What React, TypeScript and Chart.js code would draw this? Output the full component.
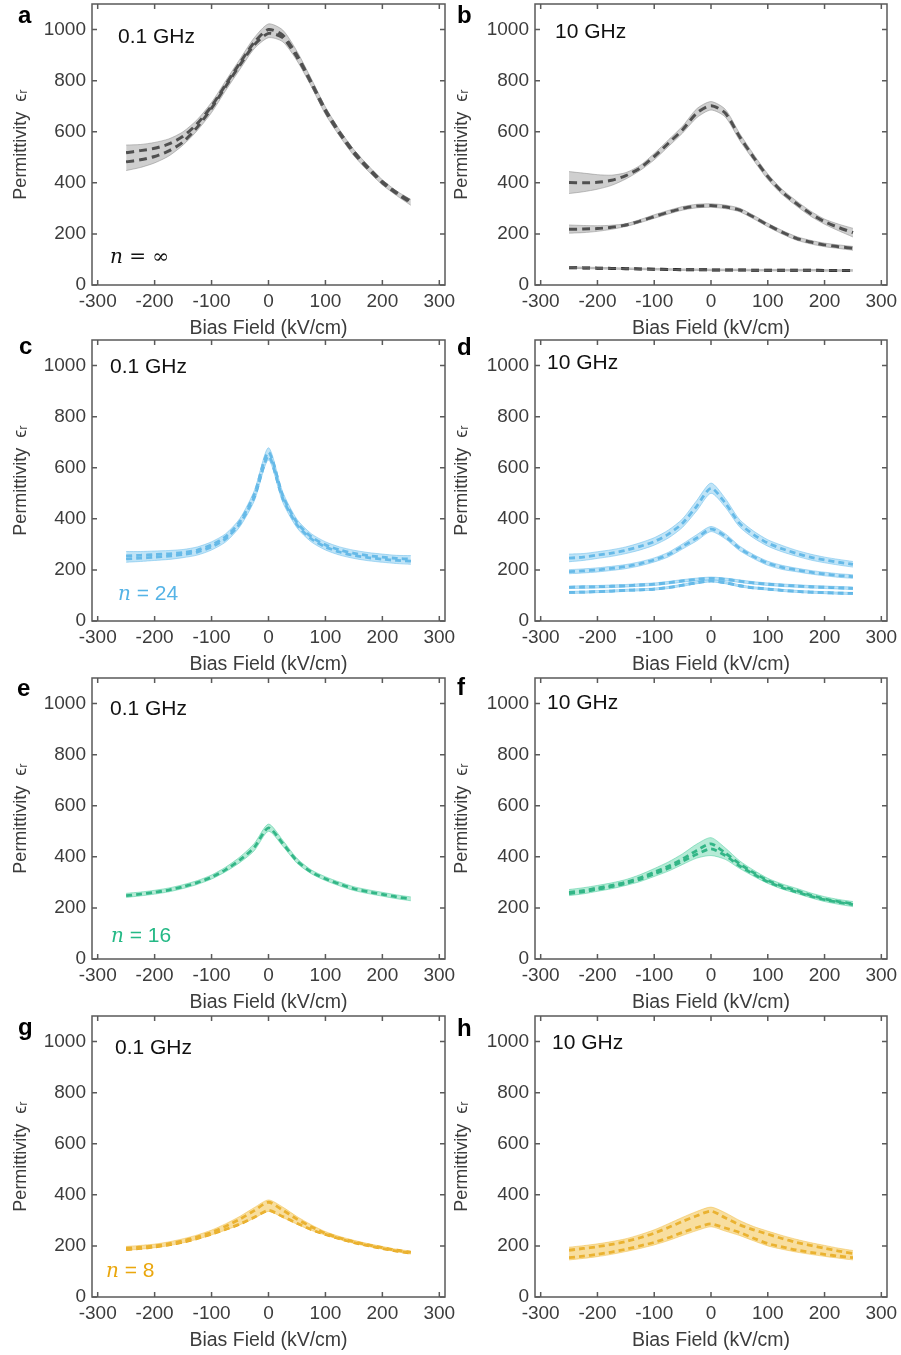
import React, { useEffect, useRef } from "react";
import { Chart, registerables } from "chart.js";

Chart.register(...registerables);

// ---------- data ----------
const X = [-250, -225, -200, -175, -150, -125, -100, -75, -50, -25, 0, 25, 50, 75, 100, 125, 150, 175, 200, 225, 250];
const X_TICKS = [-300, -200, -100, 0, 100, 200, 300];
const Y_TICKS = [0, 200, 400, 600, 800, 1000];

// panel a (0.1 GHz, n = inf)
const A_DASH1 = [518, 526, 535, 552, 582, 632, 700, 785, 870, 950, 1000, 978, 900, 795, 686, 598, 522, 460, 405, 362, 328];
const A_DASH2 = [482, 490, 503, 525, 560, 618, 692, 778, 862, 940, 985, 968, 892, 790, 680, 592, 516, 455, 400, 358, 322];
const A_HI = [548, 550, 558, 572, 600, 648, 715, 800, 885, 968, 1022, 998, 915, 808, 697, 607, 530, 468, 412, 368, 335];
const A_LO = [448, 460, 478, 505, 548, 605, 675, 762, 845, 925, 968, 952, 878, 778, 668, 582, 506, 446, 392, 350, 312];

// panel b (10 GHz, n = inf)
const B1_DASH = [401, 400, 402, 410, 428, 458, 503, 555, 608, 673, 702, 673, 582, 500, 425, 365, 320, 280, 248, 225, 205];
const B1_HI = [444, 438, 432, 430, 440, 468, 515, 568, 622, 690, 718, 688, 595, 512, 435, 375, 330, 290, 258, 238, 222];
const B1_LO = [358, 365, 375, 390, 415, 448, 490, 542, 595, 655, 685, 658, 568, 488, 413, 355, 310, 270, 238, 212, 188];
const B2_DASH = [218, 219, 221, 226, 235, 250, 268, 285, 300, 309, 311, 306, 294, 266, 235, 207, 183, 168, 157, 150, 144];
const B2_HI = [235, 233, 232, 234, 240, 256, 275, 292, 307, 316, 318, 313, 301, 273, 242, 214, 190, 175, 164, 157, 151];
const B2_LO = [203, 205, 210, 218, 229, 244, 261, 278, 293, 302, 304, 299, 287, 259, 228, 200, 176, 161, 150, 143, 136];
const B3_DASH = [68, 67, 66, 65, 64, 63, 62, 61, 60, 60, 59, 59, 59, 58, 58, 58, 58, 58, 57, 57, 57];
const B3_HI = [71, 70, 69, 68, 67, 66, 65, 64, 63, 63, 62, 62, 62, 61, 61, 61, 61, 61, 60, 60, 60];
const B3_LO = [65, 64, 63, 62, 61, 60, 59, 58, 57, 57, 56, 56, 56, 55, 55, 55, 55, 55, 54, 54, 54];

// panel c (0.1 GHz, n = 24)
const C_DASH1 = [255, 257, 260, 263, 268, 278, 298, 330, 390, 495, 660, 490, 385, 330, 298, 278, 265, 256, 250, 245, 242];
const C_DASH2 = [243, 246, 250, 254, 260, 270, 290, 322, 382, 485, 645, 480, 377, 322, 290, 270, 257, 248, 242, 237, 234];
const C_HI = [272, 272, 274, 276, 280, 290, 310, 342, 402, 510, 678, 505, 398, 342, 310, 290, 277, 268, 262, 257, 256];
const C_LO = [230, 233, 237, 241, 248, 258, 278, 310, 370, 470, 630, 465, 365, 310, 278, 258, 245, 236, 230, 225, 222];

// panel d (10 GHz, n = 24)
const D1_DASH = [246, 250, 258, 266, 277, 292, 311, 340, 383, 450, 520, 462, 383, 338, 305, 283, 265, 250, 239, 230, 222];
const D1_HI = [262, 264, 271, 279, 290, 306, 326, 356, 400, 472, 540, 480, 398, 352, 318, 296, 277, 262, 250, 241, 233];
const D1_LO = [232, 237, 245, 253, 264, 278, 297, 325, 367, 432, 500, 446, 369, 325, 293, 271, 254, 239, 228, 219, 211];
const D2_DASH = [193, 196, 200, 206, 213, 224, 239, 260, 292, 325, 360, 332, 285, 252, 226, 210, 200, 191, 184, 178, 174];
const D2_HI = [201, 204, 208, 214, 221, 232, 247, 269, 302, 338, 370, 342, 294, 260, 234, 218, 207, 198, 191, 185, 181];
const D2_LO = [185, 188, 192, 198, 205, 216, 231, 251, 282, 314, 350, 322, 276, 244, 218, 202, 193, 184, 177, 171, 167];
const D3_DASH = [132, 133, 134, 136, 138, 141, 144, 150, 157, 163, 167, 163, 156, 149, 144, 140, 137, 134, 132, 130, 128];
const D3_HI = [137, 138, 139, 141, 143, 146, 149, 155, 162, 168, 172, 168, 161, 154, 149, 145, 142, 139, 137, 135, 133];
const D3_LO = [127, 128, 129, 131, 133, 136, 139, 145, 152, 158, 162, 158, 151, 144, 139, 135, 132, 129, 127, 125, 123];
const D4_DASH = [112, 113, 115, 117, 120, 122, 125, 131, 140, 150, 157, 150, 138, 130, 125, 120, 116, 113, 111, 109, 108];
const D4_HI = [116, 117, 119, 121, 124, 126, 129, 135, 144, 154, 161, 154, 142, 134, 129, 124, 120, 117, 115, 113, 112];
const D4_LO = [108, 109, 111, 113, 116, 118, 121, 127, 136, 146, 153, 146, 134, 126, 121, 116, 112, 109, 107, 105, 104];

// panel e (0.1 GHz, n = 16)
const E_DASH = [248, 254, 261, 270, 283, 299, 320, 350, 388, 437, 513, 452, 384, 341, 314, 293, 275, 263, 253, 243, 235];
const E_HI = [257, 262, 269, 278, 291, 307, 329, 360, 400, 452, 528, 465, 394, 349, 322, 301, 283, 271, 261, 251, 243];
const E_LO = [241, 247, 254, 263, 276, 292, 313, 342, 378, 424, 500, 442, 375, 334, 307, 286, 268, 256, 246, 236, 228];

// panel f (10 GHz, n = 16)
const F_DASH1 = [261, 268, 278, 288, 301, 318, 340, 363, 392, 425, 451, 415, 373, 338, 307, 285, 268, 250, 235, 225, 216];
const F_DASH2 = [256, 263, 273, 283, 296, 312, 333, 355, 383, 410, 431, 405, 365, 332, 302, 280, 263, 246, 232, 222, 213];
const F_HI = [272, 279, 288, 298, 311, 330, 354, 380, 412, 450, 475, 435, 385, 348, 316, 294, 277, 259, 244, 233, 225];
const F_LO = [248, 255, 265, 275, 288, 303, 323, 344, 370, 395, 405, 390, 355, 324, 296, 274, 257, 240, 225, 214, 205];

// panel g (0.1 GHz, n = 8)
const G_DASH1 = [191, 195, 200, 209, 220, 235, 253, 277, 305, 338, 371, 340, 305, 275, 249, 231, 216, 204, 193, 183, 175];
const G_DASH2 = [186, 190, 196, 204, 215, 229, 246, 265, 286, 312, 339, 315, 289, 264, 245, 228, 213, 201, 190, 180, 172];
const G_HI = [198, 202, 207, 216, 228, 243, 262, 287, 316, 350, 380, 352, 315, 283, 256, 237, 222, 209, 198, 187, 180];
const G_LO = [183, 187, 193, 201, 212, 226, 243, 262, 283, 308, 335, 311, 285, 261, 242, 225, 210, 198, 187, 177, 168];

// panel h (10 GHz, n = 8)
const H_DASH1 = [183, 190, 197, 206, 217, 232, 250, 272, 296, 318, 336, 310, 283, 263, 246, 229, 214, 202, 191, 180, 170];
const H_DASH2 = [154, 160, 167, 176, 187, 200, 214, 232, 253, 272, 286, 270, 253, 230, 209, 196, 184, 175, 167, 160, 154];
const H_HI = [195, 201, 208, 217, 228, 244, 263, 287, 312, 335, 352, 330, 300, 276, 258, 241, 226, 213, 202, 191, 182];
const H_LO = [145, 151, 158, 167, 178, 190, 204, 221, 241, 260, 275, 258, 241, 220, 200, 187, 176, 167, 159, 152, 145];

// ---------- styling ----------
const FONT = "'Liberation Sans', Arial, sans-serif";
const AXIS_TEXT = "#3c3c3c";
const PAD_TOP = 10;
const CHART_H = 281;
const X_AXIS_H = 55;
const ROW_TOPS = [4, 340, 678, 1016];
const COLS = [
  { canvasLeft: 0, yW: 92, chartRight: 445, padRight: 20, titlePad: 10 },
  { canvasLeft: 450, yW: 85, chartRight: 887, padRight: 14, titlePad: 1 },
];

type Theme = { band: string; edge: string; dash: string; width: number; pattern: number[] };
const BLACK: Theme = { band: "rgba(160,160,160,0.5)", edge: "rgba(130,130,130,0.6)", dash: "#000000", width: 3, pattern: [8, 5] };
const BLUE: Theme = { band: "rgba(140,205,240,0.55)", edge: "rgba(110,190,235,0.7)", dash: "#3aa3de", width: 2.8, pattern: [6, 4] };
const GREEN: Theme = { band: "rgba(90,210,165,0.45)", edge: "rgba(60,200,150,0.6)", dash: "#139f70", width: 2.8, pattern: [6, 4] };
const ORANGE: Theme = { band: "rgba(243,195,80,0.55)", edge: "rgba(240,185,60,0.6)", dash: "#e19e0c", width: 2.8, pattern: [6, 4] };

type Spec = { col: number; row: number; theme: Theme; bands: number[][][]; dashes: number[][] };
const PANELS: Spec[] = [
  { col: 0, row: 0, theme: BLACK, bands: [[A_HI, A_LO]], dashes: [A_DASH1, A_DASH2] },
  { col: 1, row: 0, theme: BLACK, bands: [[B1_HI, B1_LO], [B2_HI, B2_LO], [B3_HI, B3_LO]], dashes: [B1_DASH, B2_DASH, B3_DASH] },
  { col: 0, row: 1, theme: BLUE, bands: [[C_HI, C_LO]], dashes: [C_DASH1, C_DASH2] },
  { col: 1, row: 1, theme: BLUE, bands: [[D1_HI, D1_LO], [D2_HI, D2_LO], [D3_HI, D3_LO], [D4_HI, D4_LO]], dashes: [D1_DASH, D2_DASH, D3_DASH, D4_DASH] },
  { col: 0, row: 2, theme: GREEN, bands: [[E_HI, E_LO]], dashes: [E_DASH] },
  { col: 1, row: 2, theme: GREEN, bands: [[F_HI, F_LO]], dashes: [F_DASH1, F_DASH2] },
  { col: 0, row: 3, theme: ORANGE, bands: [[G_HI, G_LO]], dashes: [G_DASH1, G_DASH2] },
  { col: 1, row: 3, theme: ORANGE, bands: [[H_HI, H_LO]], dashes: [H_DASH1, H_DASH2] },
];

const boxPlugin = {
  id: "matlabBox",
  afterDraw(chart: any) {
    const { ctx, chartArea } = chart;
    const { left, right, top, bottom } = chartArea;
    const xs = chart.scales.x;
    const ys = chart.scales.y;
    ctx.save();
    ctx.strokeStyle = "#5a5a5a";
    ctx.lineWidth = 1.5;
    ctx.strokeRect(left, top, right - left, bottom - top);
    ctx.beginPath();
    X_TICKS.forEach((v) => {
      const px = xs.getPixelForValue(v);
      ctx.moveTo(px, bottom);
      ctx.lineTo(px, bottom - 5);
      ctx.moveTo(px, top);
      ctx.lineTo(px, top + 5);
    });
    Y_TICKS.forEach((v) => {
      const py = ys.getPixelForValue(v);
      ctx.moveTo(left, py);
      ctx.lineTo(left + 5, py);
      ctx.moveTo(right, py);
      ctx.lineTo(right - 5, py);
    });
    ctx.stroke();
    ctx.restore();
  },
};

function toPts(arr: number[]) {
  return arr.map((y, i) => ({ x: X[i], y }));
}

function Panel({ spec }: { spec: Spec }) {
  const ref = useRef<HTMLCanvasElement>(null);
  const col = COLS[spec.col];
  const width = col.chartRight + col.padRight - col.canvasLeft;
  const height = PAD_TOP + CHART_H + X_AXIS_H;
  const top = ROW_TOPS[spec.row] - PAD_TOP;

  useEffect(() => {
    const t = spec.theme;
    const datasets: any[] = [];
    spec.bands.forEach(([hi, lo]) => {
      datasets.push({ data: toPts(hi), borderColor: t.edge, borderWidth: 0.8, pointRadius: 0, fill: false, tension: 0.25 });
      datasets.push({ data: toPts(lo), borderColor: t.edge, borderWidth: 0.8, pointRadius: 0, fill: "-1", backgroundColor: t.band, tension: 0.25 });
    });
    spec.dashes.forEach((d) => {
      datasets.push({ data: toPts(d), borderColor: t.dash, borderWidth: t.width, borderDash: t.pattern, pointRadius: 0, fill: false, tension: 0.25 });
    });
    const zeroPad = (s: any) => {
      s.paddingLeft = 0;
      s.paddingRight = 0;
      s.paddingTop = 0;
      s.paddingBottom = 0;
    };
    const chart = new Chart(ref.current as HTMLCanvasElement, {
      type: "line",
      data: { datasets },
      options: {
        responsive: false,
        animation: false,
        layout: { padding: { top: PAD_TOP, right: col.padRight, bottom: 0, left: 0 } },
        plugins: { legend: { display: false }, tooltip: { enabled: false } },
        scales: {
          x: {
            type: "linear",
            min: -310,
            max: 310,
            afterBuildTicks: (s: any) => {
              s.ticks = X_TICKS.map((v) => ({ value: v }));
            },
            afterFit: (s: any) => {
              s.height = X_AXIS_H;
              zeroPad(s);
            },
            grid: { display: false, drawTicks: false },
            border: { display: false },
            ticks: {
              font: { family: FONT, size: 19 },
              color: AXIS_TEXT,
              padding: 5,
              maxRotation: 0,
              autoSkip: false,
              callback: (v: any) => String(v),
            },
            title: {
              display: true,
              text: "Bias Field (kV/cm)",
              font: { family: FONT, size: 19.5 },
              color: AXIS_TEXT,
              padding: { top: 0, bottom: 0 },
            },
          },
          y: {
            type: "linear",
            min: 0,
            max: 1100,
            afterBuildTicks: (s: any) => {
              s.ticks = Y_TICKS.map((v) => ({ value: v }));
            },
            afterFit: (s: any) => {
              s.width = col.yW;
              zeroPad(s);
            },
            grid: { display: false, drawTicks: false },
            border: { display: false },
            ticks: {
              font: { family: FONT, size: 19 },
              color: AXIS_TEXT,
              padding: 6,
              autoSkip: false,
              callback: (v: any) => String(v),
            },
            title: {
              display: true,
              text: "Permittivity  ϵᵣ",
              font: { family: FONT, size: 18 },
              color: AXIS_TEXT,
              padding: { top: col.titlePad, bottom: 0 },
            },
          },
        },
      },
      plugins: [boxPlugin],
    });
    return () => chart.destroy();
  }, []);

  return (
    <canvas
      ref={ref}
      width={width}
      height={height}
      style={{ position: "absolute", left: col.canvasLeft, top, width, height }}
    />
  );
}

function Txt({ x, base, size, children, style }: { x: number; base: number; size: number; children: any; style?: any }) {
  return (
    <div
      style={{
        position: "absolute",
        left: x,
        top: base - 0.85 * size,
        fontSize: size,
        lineHeight: `${size}px`,
        fontFamily: FONT,
        whiteSpace: "nowrap",
        ...style,
      }}
    >
      {children}
    </div>
  );
}

const LETTERS = [
  { t: "a", x: 18, b: 23 },
  { t: "b", x: 457, b: 23 },
  { t: "c", x: 19, b: 354 },
  { t: "d", x: 457, b: 355 },
  { t: "e", x: 17, b: 696 },
  { t: "f", x: 457, b: 695 },
  { t: "g", x: 18, b: 1035 },
  { t: "h", x: 457, b: 1036 },
];

const FREQS = [
  { t: "0.1 GHz", x: 118, b: 43 },
  { t: "10 GHz", x: 555, b: 38 },
  { t: "0.1 GHz", x: 110, b: 373 },
  { t: "10 GHz", x: 547, b: 369 },
  { t: "0.1 GHz", x: 110, b: 715 },
  { t: "10 GHz", x: 547, b: 709 },
  { t: "0.1 GHz", x: 115, b: 1054 },
  { t: "10 GHz", x: 552, b: 1049 },
];

const N_LABELS = [
  { v: "∞", x: 110, b: 263, color: "#111", serif: true },
  { v: "24", x: 118, b: 600, color: "#55b3e6", serif: false },
  { v: "16", x: 111, b: 942, color: "#25b986", serif: false },
  { v: "8", x: 106, b: 1277, color: "#eaa70e", serif: false },
];

const SERIF = "'DejaVu Serif', 'Liberation Serif', serif";

export default function App() {
  return (
    <div style={{ position: "absolute", left: 0, top: 0, width: 901, height: 1355, background: "#fff", overflow: "hidden" }}>
      {PANELS.map((p, i) => (
        <Panel key={i} spec={p} />
      ))}
      {LETTERS.map((l) => (
        <Txt key={l.t} x={l.x} base={l.b} size={24} style={{ fontWeight: "bold", color: "#000" }}>
          {l.t}
        </Txt>
      ))}
      {FREQS.map((f, i) => (
        <Txt key={"f" + i} x={f.x} base={f.b} size={21} style={{ color: "#111" }}>
          {f.t}
        </Txt>
      ))}
      {N_LABELS.map((n, i) => (
        <Txt key={"n" + i} x={n.x} base={n.b} size={20} style={{ color: n.color }}>
          <span style={{ fontFamily: SERIF, fontStyle: "italic" }}>n</span>
          {n.serif ? (
            <span style={{ fontFamily: SERIF }}> = ∞</span>
          ) : (
            <span style={{ fontSize: 21 }}> = {n.v}</span>
          )}
        </Txt>
      ))}
    </div>
  );
}
